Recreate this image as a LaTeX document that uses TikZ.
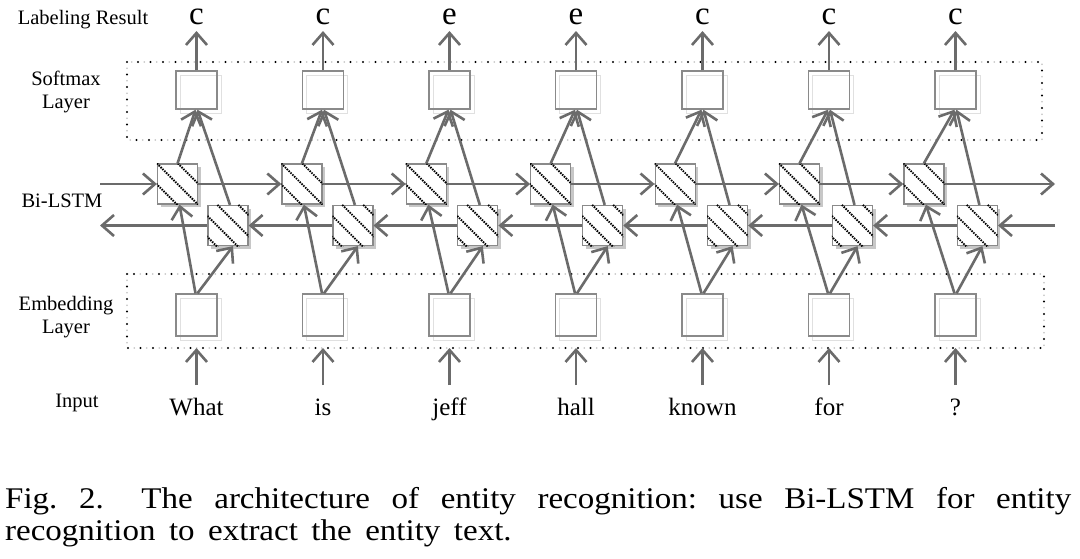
\documentclass[tikz,border=0pt]{standalone}
\usepackage{fontspec}
\setmainfont{Liberation Serif}
\newfontfamily\capfont[FakeStretch=1.1]{Liberation Serif}
\usetikzlibrary{arrows.meta,calc,shadows}
\definecolor{arrgray}{HTML}{6B6B6B}
\definecolor{boxgray}{HTML}{8A8A8A}
\begin{document}
\begin{tikzpicture}[x=1pt,y=-1pt,
  arr/.style={draw=arrgray,line width=2.6pt,-{Straight Barb[length=12pt,width=21pt]}},
  plainbox/.style={draw=boxgray,line width=1.4pt,minimum width=41pt,minimum height=38pt,inner sep=0pt},
  embbox/.style={plainbox,minimum height=42pt},
  shbox/.style={draw=black!12,line width=1pt,minimum width=41pt,minimum height=38pt,inner sep=0pt},
  shembbox/.style={shbox,minimum height=42pt},
  lstmbox/.style={draw=boxgray,line width=1.2pt,fill=white,minimum width=40pt,minimum height=40pt,inner sep=0pt,
    drop shadow={shadow xshift=3pt,shadow yshift=-3pt,fill=black!22,opacity=1}},
  hatch/.style={black,line width=1.9pt,dash pattern=on 1.5pt off 1.1pt},
  dotbox/.style={black,line width=2.2pt,line cap=round,dash pattern=on 0pt off 12.5pt},
  dotshade/.style={black!25,line width=1.8pt,line cap=round,dash pattern=on 0pt off 12.5pt,dash phase=6.25pt},
  lbl/.style={font=\fontsize{20.5}{24}\selectfont,inner sep=0pt,anchor=base},
  wordlbl/.style={font=\fontsize{25}{28}\selectfont,inner sep=0pt,anchor=base},
  outlbl/.style={font=\fontsize{33}{36}\selectfont,inner sep=0pt,anchor=base},
  caplbl/.style={font=\capfont\fontsize{30}{33}\selectfont,inner sep=0pt,anchor=base west}]
\useasboundingbox[fill=white] (0,0) rectangle (1080,558);

% dotted layer frames
\draw[dotshade] (127,62) rectangle (1042,140);
\draw[dotbox] (127,62) rectangle (1042,140);
\draw[dotshade] (127,274) rectangle (1044,348);
\draw[dotbox] (127,274) rectangle (1044,348);

% left labels
\node[lbl] (labres) at (83,24) {Labeling Result};
\node[lbl] (soft1) at (66,85) {Softmax};
\node[lbl] (soft2) at (66,108) {Layer};
\node[lbl] (bilstm) at (62,207) {Bi-LSTM};
\node[lbl] (emb1) at (66,310) {Embedding};
\node[lbl] (emb2) at (66,333) {Layer};
\node[lbl] (inp) at (77,407) {Input};

\foreach \i/\lab/\word in {0/c/What,1/c/is,2/e/jeff,3/e/hall,4/c/known,5/c/for,6/c/?} {
  \pgfmathsetmacro\cx{196.5+126.5*\i}
  \pgfmathsetmacro\fx{177.5+124.4*\i}
  \pgfmathsetmacro\bx{228+124.9*\i}
  % softmax
  \node[shbox] (Ssh\i) at (\cx+4,94) {};
  \node[plainbox] (S\i) at (\cx,90) {};
  % embedding
  \node[shembbox] (Esh\i) at (\cx+4,319) {};
  \node[embbox] (E\i) at (\cx,315) {};
  % lstm cells
  \node[lstmbox] (F\i) at (\fx,184) {};
  \node[lstmbox] (B\i) at (\bx,225.5) {};
  \begin{scope}
    \clip (F\i.north west) rectangle (F\i.south east);
    \foreach \d in {-21,0,21} \draw[hatch] ($(F\i.north west)+(\d,0)$) -- ++(44,44);
  \end{scope}
  \begin{scope}
    \clip (B\i.north west) rectangle (B\i.south east);
    \foreach \d in {-32,-11,10,31} \draw[hatch] ($(B\i.north west)+(\d,0)$) -- ++(44,44);
  \end{scope}
  % output label and input word
  \node[outlbl] (L\i) at (\cx,24) {\lab};
  \coordinate (T\i) at (\cx,31);
  \node[wordlbl] (W\i) at (\cx,415) {\word};
  \coordinate (IN\i) at (\cx,385);
  \coordinate (EB\i) at (\cx,348);
  % vertical connectors
  \draw[arr] (S\i.north) -- (T\i);
  \draw[arr] (IN\i) -- (EB\i);
  \draw[arr] (F\i.north) -- ($(S\i.south)+(-1,0)$);
  \draw[arr] ($(B\i.north)+(2,0)$) -- ($(S\i.south)+(1,0)$);
  \draw[arr] ($(E\i.north)+(-1,0)$) -- ($(F\i.south)+(2,0)$);
  \draw[arr] ($(E\i.north)+(1,0)$) -- ($(B\i.south)+(5,0)$);
}

% recurrent connectors
\coordinate (fin) at (100,184);
\coordinate (fout) at (1055,184);
\coordinate (bin) at (1055,225.5);
\coordinate (bout) at (100,225.5);
\draw[arr] (fin) -- (F0.west);
\draw[arr] (F6.east) -- (fout);
\draw[arr] (bin) -- (B6.east);
\draw[arr] (B0.west) -- (bout);
\foreach \i in {0,...,5} {
  \pgfmathtruncatemacro\j{\i+1}
  \draw[arr] (F\i.east) -- (F\j.west);
  \draw[arr] (B\j.west) -- (B\i.east);
}

% caption
\node[caplbl] (cap1) at (5,508) {\hbox to 1066pt{Fig.\hfil\ 2.\hskip 0pt plus 2.2fil\ The\hfil\ architecture\hfil\ of\hfil\ entity\hfil\ recognition:\hfil\ use\hfil\ Bi-LSTM\hfil\ for\hfil\ entity}};
\node[caplbl] (cap2) at (5,540) {recognition\hskip 0.45em to\hskip 0.45em extract\hskip 0.45em the\hskip 0.45em entity\hskip 0.45em text.};
\end{tikzpicture}
\end{document}
